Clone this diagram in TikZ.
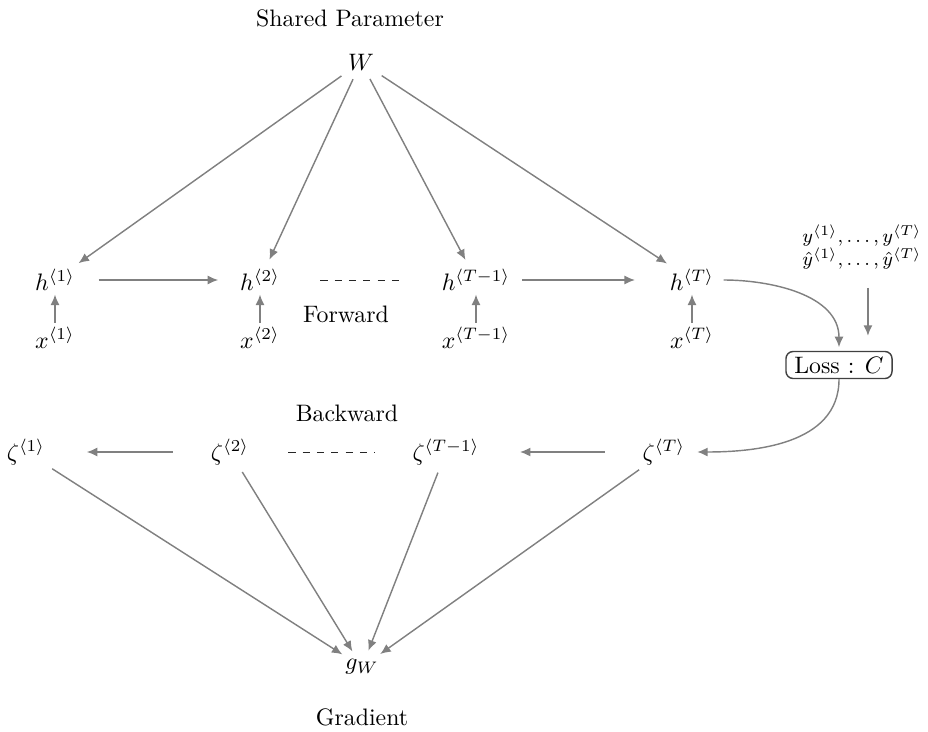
\documentclass[tikz,border=0pt]{standalone}
\usetikzlibrary{arrows.meta}
\begin{document}
\begin{tikzpicture}[x=0.42pt,y=-0.42pt,
  lbl/.style={inner sep=0pt, outer sep=0pt},
  arr/.style={draw=black!50, line width=0.6pt, -{Latex[length=4.4pt,width=3.8pt]}},
  dline/.style={draw=black!85, line width=0.4pt, dashed},
  lossbox/.style={draw=black!75, rounded corners=3pt, inner xsep=3.5pt, inner ysep=2.2pt, line width=0.6pt}]
\useasboundingbox (0,0) rectangle (928,731);

% labels
\node[lbl] (sp) at (350,18) {Shared Parameter};
\node[lbl] (fw) at (346,314) {Forward};
\node[lbl] (bw) at (347,413) {Backward};
\node[lbl] (gr) at (362,717) {Gradient};

% parameter
\node[lbl] (W) at (361,62) {$W$};

% hidden states
\node[lbl] (h1) at (55,280) {$h^{\langle 1\rangle}$};
\node[lbl] (h2) at (260,280) {$h^{\langle 2\rangle}$};
\node[lbl] (h3) at (476,280) {$h^{\langle T-1\rangle}$};
\node[lbl] (hT) at (692,280) {$h^{\langle T\rangle}$};

% inputs
\node[lbl] (x1) at (55,338) {$x^{\langle 1\rangle}$};
\node[lbl] (x2) at (260,338) {$x^{\langle 2\rangle}$};
\node[lbl] (x3) at (476,338) {$x^{\langle T-1\rangle}$};
\node[lbl] (xT) at (692,338) {$x^{\langle T\rangle}$};

% targets and loss
\node[lbl, font=\footnotesize, align=center] (ylab) at (862,247)
  {$y^{\langle 1\rangle},\ldots,y^{\langle T\rangle}$\\$\hat y^{\langle 1\rangle},\ldots,\hat y^{\langle T\rangle}$};
\node[lossbox] (L) at (839,365) {Loss : $C$};

% backward states
\node[lbl] (z1) at (26,452) {$\zeta^{\langle 1\rangle}$};
\node[lbl] (z2) at (230,452) {$\zeta^{\langle 2\rangle}$};
\node[lbl] (z3) at (446,452) {$\zeta^{\langle T-1\rangle}$};
\node[lbl] (zT) at (664,452) {$\zeta^{\langle T\rangle}$};

% gradient
\node[lbl] (gW) at (362,667) {$g_W$};

% W to hidden states
\foreach \n in {h1,h2,h3,hT}
  \draw[arr, shorten <=4.2pt, shorten >=4.5pt] (W) -- (\n);

% inputs to hidden states
\foreach \n in {1,2,3,T}
  \draw[arr, shorten <=2pt, shorten >=1.7pt] (x\n) -- (h\n);

% forward chain
\draw[arr, shorten <=10pt, shorten >=9.2pt] (h1) -- (h2);
\draw[dline, shorten <=17pt, shorten >=18pt] (h2) -- (h3);
\draw[arr, shorten <=5pt, shorten >=14.7pt] (h3) -- (hT);

% to and from loss
\draw[arr, shorten <=4pt, shorten >=1.5pt] (hT.east) to[out=0,in=90] (L.north);
\draw[arr, shorten <=8pt, shorten >=6.3pt] ([xshift=2.5pt]ylab.south) -- ([xshift=2.5pt]ylab.south |- L.north);
\draw[arr, shorten >=5pt] (L.south) to[out=-90,in=0] (zT.east);

% backward chain
\draw[arr, shorten <=16pt, shorten >=17pt] (zT) -- (z3);
\draw[dline, shorten <=16.5pt, shorten >=16pt] (z2) -- (z3);
\draw[arr, shorten <=16pt, shorten >=17.5pt] (z2) -- (z1);

% to gradient
\foreach \n in {z1,z2,z3,zT}
  \draw[arr, shorten <=3.5pt, shorten >=4pt] (\n) -- (gW);
\end{tikzpicture}
\end{document}
